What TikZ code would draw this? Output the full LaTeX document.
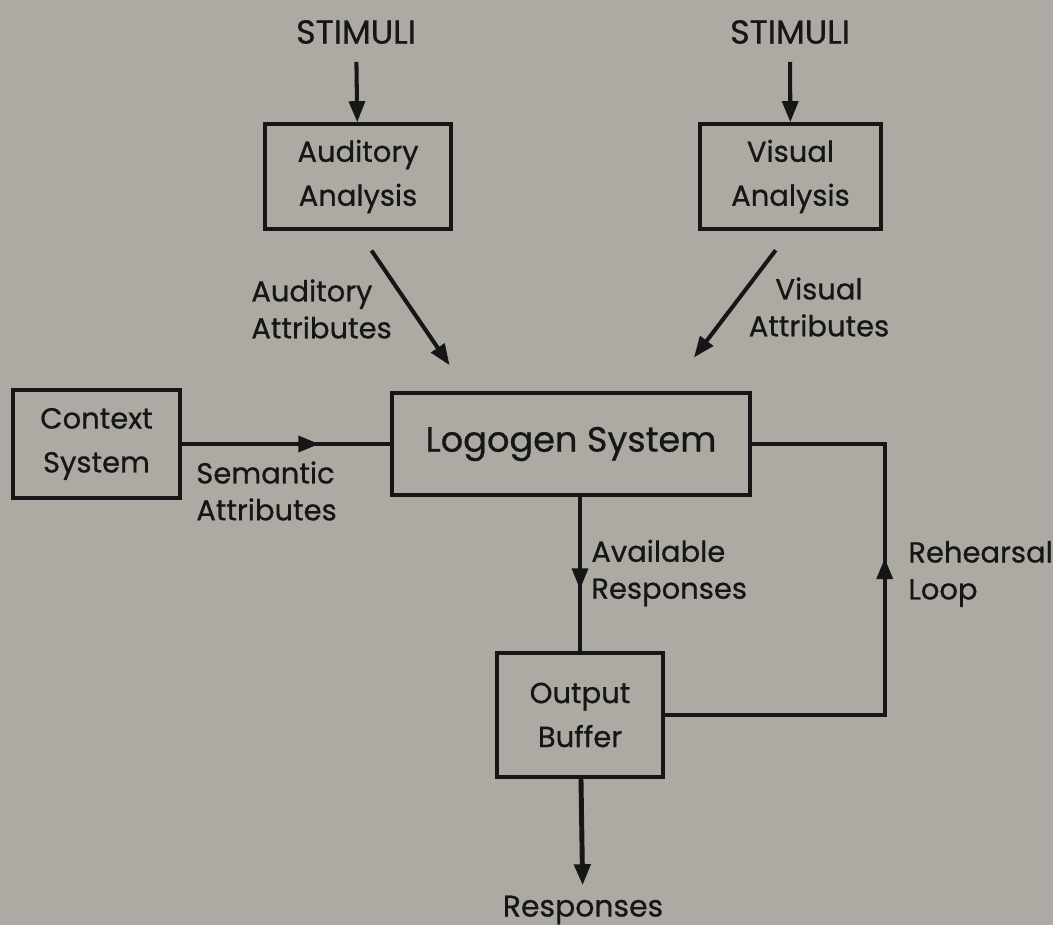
\documentclass[tikz,border=0pt]{standalone}
\usepackage{fontspec}
\setmainfont{Poppins}[FakeBold=0.7]
\usetikzlibrary{arrows.meta,decorations.markings}
\definecolor{paper}{RGB}{172,170,162}
\definecolor{ink}{RGB}{22,22,22}
\tikzset{
	box/.style={draw=ink, line width=2pt, align=center, inner sep=0pt, text=ink, font=\fontsize{16.5}{25}\selectfont},
	lbl/.style={text=ink, inner sep=0pt, font=\fontsize{16.5}{21}\selectfont},
	tip/.style={-{Triangle[length=12pt,width=9pt]}},
	wire/.style={draw=ink, color=ink, line width=2.3pt},
	midtip/.style={postaction={decorate}, decoration={markings, mark=at position #1 with {\arrow{Triangle[length=12pt,width=9pt]}}}},
}
\begin{document}
\begin{tikzpicture}[x=0.02cm, y=-0.02cm]
			\useasboundingbox (0,0) rectangle (1053,925);
			\fill[paper] (0,0) rectangle (1053,925);
				\node[lbl, font=\fontsize{19}{22}\selectfont] at (356,32) (stimA) {STIMULI};
				\node[lbl, font=\fontsize{19}{22}\selectfont] at (790,32) (stimV) {STIMULI};
				\node[box, minimum width=3.72cm, minimum height=2.1cm] at (358,176.5) (aud) {Auditory\\Analysis};
				\node[box, minimum width=3.62cm, minimum height=2.1cm] at (790.5,176.5) (vis) {Visual\\Analysis};
				\node[box, minimum width=3.34cm, minimum height=2.16cm] at (96.5,444) (ctx) {Context\\System};
				\node[box, minimum width=7.16cm, minimum height=2.04cm, font=\fontsize{20}{24}\selectfont] at (571,444) (logo) {Logogen System};
				\node[box, minimum width=3.32cm, minimum height=2.48cm] at (580,715) (out) {Output\\Buffer};
				\node[lbl, font=\fontsize{17}{20}\selectfont] at (583,910) (resp) {Responses};
				\node[lbl, align=left, anchor=west] at (251,309) (audattr) {Auditory\\Attributes};
				\node[lbl, align=center] at (819,307) (visattr) {Visual\\Attributes};
				\node[lbl, align=left, anchor=west] at (196,491) (semattr) {Semantic\\Attributes};
				\node[lbl, align=left, anchor=west] at (591,573) (avail) {Available\\Responses};
				\node[lbl, align=left, anchor=west] at (908,574) (rehearse) {Rehearsal\\Loop};
				\path (logo.north west) ++(77,0) coordinate (audin);
				\path (logo.north west) ++(278,0) coordinate (visin);
				\path (logo.east) ++(133,0) coordinate (rl);
				\draw[wire, tip, shorten <=10pt] (stimA) -- (aud);
				\draw[wire, tip, shorten <=10pt] (stimV) -- (vis);
				\draw[wire, tip, shorten <=13.6pt, shorten >=17.9pt] (aud.south) -- (audin);
				\draw[wire, tip, shorten <=13.9pt, shorten >=24.1pt] (vis.south) -- (visin);
				\draw[wire, midtip=0.66] (ctx) -- (logo);
				\draw[wire, midtip=0.6] (logo.south -| out.north) -- (out.north);
				\draw[wire, midtip=0.604] (out.east) -| (rl) -- (logo.east);
				\draw[wire, line width=2.8pt, tip, shorten >=5.7pt] (out) -- (resp);
\end{tikzpicture}
\end{document}
